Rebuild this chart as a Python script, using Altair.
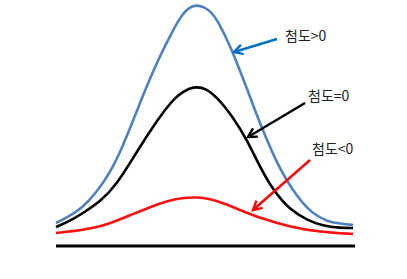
import math
import altair as alt
import pandas as pd

# ---- data ----
blue_x = [0, 14, 27, 40, 54, 66, 77, 89, 102, 117, 127, 134, 141, 148, 154, 161, 174, 179, 190, 201, 211, 221, 231, 241, 251, 261, 271, 279, 297]
blue_y = [23, 30, 39, 53, 73, 98, 125, 156, 186, 216, 233, 239, 241, 239, 235, 227, 200, 188, 160, 130, 106, 83, 65, 50, 38, 30, 25, 23, 21]

black_x = [0, 14, 27, 44, 61, 77, 94, 111, 120, 127, 134, 141, 149, 161, 177, 191, 204, 217, 234, 251, 267, 284, 297]
black_y = [19, 25, 33, 44, 62, 88, 115, 139, 149, 154, 158, 159, 158, 149, 129, 106, 79, 56, 36, 26, 20, 18, 18]

red_x = [0, 27, 51, 77, 94, 111, 126, 141, 154, 167, 184, 201, 234, 264, 297]
red_y = [13, 16, 21, 32, 39, 45, 48, 49, 47, 43, 36, 29, 19, 14, 12]

base_x = [0, 299]
base_y = [0, 0]

labels = ["첨도>0", "첨도=0", "첨도<0"]
label_x = [229, 252, 256]
label_y = [209, 149, 96]

arrow_x1 = [221, 249, 254]
arrow_y1 = [207, 143, 86]
arrow_x2 = [178, 192, 197]
arrow_y2 = [194, 109, 36]
arrow_colors = ["#0070C0", "#000000", "#FF0000"]

curve_colors = {"blue": "#4F81BD", "black": "#000000", "red": "#FF1010"}

# ---- build tables ----
curves = pd.concat([
    pd.DataFrame({"x": blue_x, "y": blue_y, "s": "blue"}),
    pd.DataFrame({"x": black_x, "y": black_y, "s": "black"}),
    pd.DataFrame({"x": red_x, "y": red_y, "s": "red"}),
], ignore_index=True)

base = pd.DataFrame({"x": base_x, "y": base_y})

arrows = pd.DataFrame({
    "x1": arrow_x1, "y1": arrow_y1, "x2": arrow_x2, "y2": arrow_y2,
    "c": arrow_colors,
})
arrows["angle"] = [
    math.degrees(math.atan2(x2 - x1, y2 - y1)) % 360
    for x1, y1, x2, y2 in zip(arrow_x1, arrow_y1, arrow_x2, arrow_y2)
]

texts = pd.DataFrame({"t": labels, "x": label_x, "y": label_y})

W, H = 407, 279
xs = alt.Scale(domain=[-56, W - 56], nice=False, zero=False)
ys = alt.Scale(domain=[-33, H - 33], nice=False, zero=False)
X = lambda f: alt.X(f, scale=xs, axis=None)
Y = lambda f: alt.Y(f, scale=ys, axis=None)

baseline = alt.Chart(base).mark_line(color="#000000", strokeWidth=3, clip=False).encode(
    x=X("x:Q"), y=Y("y:Q")
)

lines = alt.Chart(curves).mark_line(strokeWidth=2.6, interpolate="basis").encode(
    x=X("x:Q"), y=Y("y:Q"),
    color=alt.Color("s:N", scale=alt.Scale(domain=list(curve_colors.keys()),
                                           range=list(curve_colors.values())), legend=None),
    detail="s:N",
)

rules = alt.Chart(arrows).mark_rule(strokeWidth=2.4).encode(
    x=X("x1:Q"), y=Y("y1:Q"), x2="x2:Q", y2="y2:Q",
    color=alt.Color("c:N", scale=None),
)

heads = alt.Chart(arrows).mark_point(
    shape="M -0.55 1 L 0 0 L 0.55 1", filled=False, size=300, strokeWidth=2.4, opacity=1
).encode(
    x=X("x2:Q"), y=Y("y2:Q"),
    color=alt.Color("c:N", scale=None),
    angle=alt.Angle("angle:Q", scale=None),
)

txt = alt.Chart(texts).mark_text(
    align="left", baseline="middle", font="Noto Sans CJK KR", fontSize=14, color="#222222"
).encode(x=X("x:Q"), y=Y("y:Q"), text="t:N")

chart = alt.layer(baseline, lines, rules, heads, txt).properties(
    width=W, height=H, padding=0, autosize=alt.AutoSizeParams(type="none"),
    background="white",
).configure_view(stroke=None)

chart.save("out.html", embed_options={"renderer": "svg", "actions": False})
